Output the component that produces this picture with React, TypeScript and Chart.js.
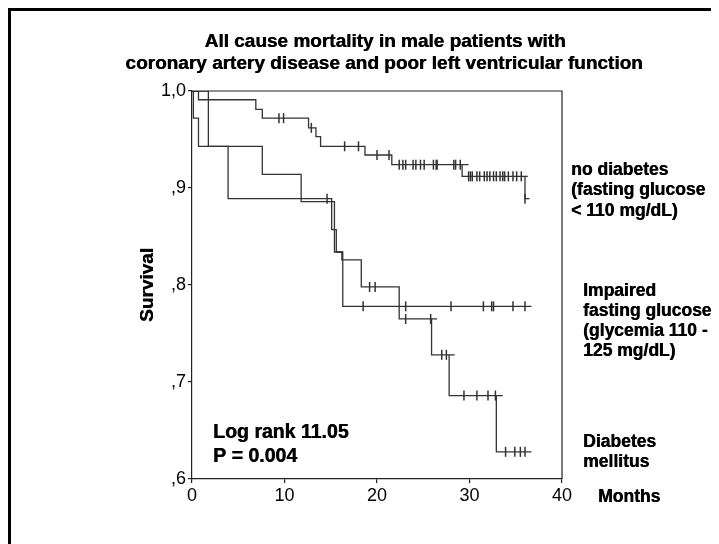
import React, { useEffect, useRef } from "react";
import { Chart, registerables } from "chart.js";

Chart.register(...registerables);

// ---- Data (months, cumulative survival) ----
const noDiabetesTimes = [0, 0.7, 6.9, 7.6, 12.6, 13.4, 13.9, 18.7, 21.6, 29.2, 36.0, 36.5];
const noDiabetesSurv = [1.0, 0.991, 0.981, 0.972, 0.962, 0.953, 0.943, 0.934, 0.924, 0.912, 0.889, 0.889];
const noDiabetesCensored = [
  9.4, 9.9, 12.9, 16.5, 18.0, 20.0, 21.3,
  22.4, 22.8, 23.1, 23.9, 24.2, 24.7, 25.1, 26.1, 26.4, 26.5, 28.3, 28.5, 29.0,
  29.9, 30.1, 30.3, 30.8, 31.1, 31.6, 31.9, 32.2, 32.6, 32.9, 33.3, 33.6, 33.8, 34.2, 34.7, 35.1, 35.6,
  36.0,
];
// times where the horizontal segment reaches past the following drop
const noDiabetesSegmentEnds = [29.9, 36.3];

const impairedTimes = [0, 0.15, 0.7, 3.9, 15.1, 15.6, 16.3, 36.7];
const impairedSurv = [1.0, 0.972, 0.943, 0.889, 0.857, 0.834, 0.778, 0.778];
const impairedCensored = [14.6, 18.5, 23.1, 28.0, 31.5, 32.4, 32.6, 34.7, 36.0];
const impairedSegmentEnds: number[] = [];

const diabetesTimes = [0, 1.77, 7.6, 11.8, 15.4, 16.2, 18.3, 22.4, 25.9, 27.8, 32.9, 36.7];
const diabetesSurv = [1.0, 0.943, 0.914, 0.886, 0.834, 0.826, 0.798, 0.765, 0.728, 0.686, 0.628, 0.628];
const diabetesCensored = [19.2, 19.8, 23.1, 25.8, 27.0, 27.5, 29.4, 30.8, 32.0, 32.8, 33.9, 34.9, 35.5, 36.0];
const diabetesSegmentEnds = [26.5, 28.4, 33.6];

const xTicks = [0, 10, 20, 30, 40];
const yTicks = [0.6, 0.7, 0.8, 0.9, 1.0];

const titleLines = [
  "All cause mortality in male patients with",
  "coronary artery disease and poor left ventricular function",
];
const legendNoDiabetes = ["no diabetes", "(fasting glucose", "< 110 mg/dL)"];
const legendImpaired = ["Impaired", "fasting glucose", "(glycemia 110 -", "125 mg/dL)"];
const legendDiabetes = ["Diabetes", "mellitus"];
const statsLines = ["Log rank 11.05", "P = 0.004"];
const yTitle = "Survival";
const xTitle = "Months";

function stepValue(times: number[], surv: number[], t: number): number {
  let v = surv[0];
  for (let i = 0; i < times.length; i++) if (times[i] <= t) v = surv[i];
  return v;
}

export default function App() {
  const ref = useRef<HTMLCanvasElement>(null);

  useEffect(() => {
    if (!ref.current) return;
    const lineColor = "#333";
    const FONT = '"Liberation Sans", Arial, sans-serif';

    const curve = (times: number[], surv: number[]) => times.map((t, i) => ({ x: t, y: surv[i] }));
    const censor = (times: number[], surv: number[], ct: number[]) =>
      ct.map((t) => ({ x: t, y: stepValue(times, surv, t) }));
    // extension segments: from the last drop before `end`, at the level before that drop
    const extensions = (times: number[], surv: number[], ends: number[]) => {
      const pts: any[] = [];
      ends.forEach((end) => {
        let k = 0;
        for (let i = 0; i < times.length; i++) if (times[i] < end) k = i;
        const level = surv[Math.max(0, k - 1)];
        pts.push({ x: times[k], y: level }, { x: end, y: level }, { x: end, y: null });
      });
      return pts;
    };

    const lineDs = (label: string, data: any[]) => ({
      type: "line" as const,
      label,
      data,
      stepped: "before" as const,
      borderColor: lineColor,
      borderWidth: 1.3,
      pointRadius: 0,
      fill: false,
    });
    const extDs = (label: string, data: any[]) => ({
      type: "line" as const,
      label,
      data,
      spanGaps: false,
      borderColor: lineColor,
      borderWidth: 1.3,
      pointRadius: 0,
      fill: false,
    });
    const tickDs = (label: string, data: any[]) => ({
      type: "scatter" as const,
      label,
      data,
      pointStyle: "line" as const,
      rotation: 90,
      pointRadius: 5,
      pointHoverRadius: 5,
      borderColor: lineColor,
      backgroundColor: lineColor,
      borderWidth: 1.5,
      showLine: false,
    });

    // heavy text: two fills offset slightly horizontally
    const heavyText = (ctx: any, s: string, x: number, y: number) => {
      ctx.fillText(s, x, y);
      ctx.fillText(s, x + 0.5, y);
    };

    const overlay = {
      id: "overlay",
      afterDraw(chart: any) {
        const ctx = chart.ctx;
        const ca = chart.chartArea;
        ctx.save();
        // outer border (top/left)
        ctx.strokeStyle = "#000";
        ctx.lineWidth = 3;
        ctx.beginPath();
        ctx.moveTo(1.5, chart.height);
        ctx.lineTo(1.5, 1.5);
        ctx.lineTo(chart.width, 1.5);
        ctx.stroke();
        // plot frame top/right
        ctx.strokeStyle = "#222";
        ctx.lineWidth = 1.2;
        ctx.beginPath();
        ctx.moveTo(ca.left, ca.top);
        ctx.lineTo(ca.right, ca.top);
        ctx.lineTo(ca.right, ca.bottom);
        ctx.stroke();

        ctx.fillStyle = "#000";
        ctx.textBaseline = "middle";
        // title
        ctx.font = `bold 19px ${FONT}`;
        ctx.textAlign = "center";
        heavyText(ctx, titleLines[0], 377, 33.5);
        heavyText(ctx, titleLines[1], 376, 56);
        // y title
        ctx.save();
        ctx.translate(140, 277);
        ctx.rotate(-Math.PI / 2);
        ctx.font = `bold 19px ${FONT}`;
        heavyText(ctx, yTitle, 0, 0);
        ctx.restore();
        // legends
        ctx.textAlign = "left";
        ctx.font = `bold 17.5px ${FONT}`;
        legendNoDiabetes.forEach((s, i) => heavyText(ctx, s, 563, 162 + i * 20.5));
        legendImpaired.forEach((s, i) => heavyText(ctx, s, 575, 283 + i * 20));
        legendDiabetes.forEach((s, i) => heavyText(ctx, s, 575, 434 + i * 20));
        heavyText(ctx, xTitle, 590, 489);
        // stats
        ctx.font = `bold 19.5px ${FONT}`;
        statsLines.forEach((s, i) => heavyText(ctx, s, 205, 425 + i * 24));
        ctx.restore();
      },
    };

    const chart = new Chart(ref.current, {
      type: "line",
      data: {
        datasets: [
          lineDs("No diabetes", curve(noDiabetesTimes, noDiabetesSurv)),
          extDs("No diabetes ext", extensions(noDiabetesTimes, noDiabetesSurv, noDiabetesSegmentEnds)),
          tickDs("No diabetes censored", censor(noDiabetesTimes, noDiabetesSurv, noDiabetesCensored)),
          lineDs("Impaired fasting glucose", curve(impairedTimes, impairedSurv)),
          extDs("IFG ext", extensions(impairedTimes, impairedSurv, impairedSegmentEnds)),
          tickDs("IFG censored", censor(impairedTimes, impairedSurv, impairedCensored)),
          lineDs("Diabetes mellitus", curve(diabetesTimes, diabetesSurv)),
          extDs("DM ext", extensions(diabetesTimes, diabetesSurv, diabetesSegmentEnds)),
          tickDs("DM censored", censor(diabetesTimes, diabetesSurv, diabetesCensored)),
        ] as any,
      },
      options: {
        animation: false,
        responsive: false,
        devicePixelRatio: 1,
        layout: { padding: { top: 83, right: 157, left: 0, bottom: 0 } },
        plugins: { legend: { display: false }, title: { display: false }, tooltip: { enabled: false } },
        events: [],
        scales: {
          x: {
            type: "linear",
            min: xTicks[0],
            max: xTicks[xTicks.length - 1],
            afterBuildTicks: (s: any) => {
              s.ticks = xTicks.map((v) => ({ value: v }));
            },
            afterFit: (s: any) => {
              s.height = 65;
            },
            ticks: { color: "#000", font: { size: 18, family: FONT }, padding: 2, maxRotation: 0 },
            grid: { display: true, drawOnChartArea: false, drawTicks: true, tickLength: 4, color: "#222", lineWidth: 1.2 },
            border: { display: true, color: "#222", width: 1.2 },
          },
          y: {
            type: "linear",
            min: yTicks[0],
            max: yTicks[yTicks.length - 1],
            afterBuildTicks: (s: any) => {
              s.ticks = yTicks.map((v) => ({ value: v }));
            },
            afterFit: (s: any) => {
              s.width = 184;
            },
            ticks: {
              color: "#000",
              font: { size: 18, family: FONT },
              padding: 2,
              callback: (v: any) => {
                const n = Math.round(Number(v) * 10);
                return n === 10 ? "1,0" : "," + n;
              },
            },
            grid: { display: true, drawOnChartArea: false, drawTicks: true, tickLength: 4, color: "#222", lineWidth: 1.2 },
            border: { display: true, color: "#222", width: 1.2 },
          },
        },
      },
      plugins: [overlay],
    });
    return () => chart.destroy();
  }, []);

  return (
    <div style={{ width: 711, height: 536 }}>
      <canvas ref={ref} width={711} height={536} />
    </div>
  );
}
